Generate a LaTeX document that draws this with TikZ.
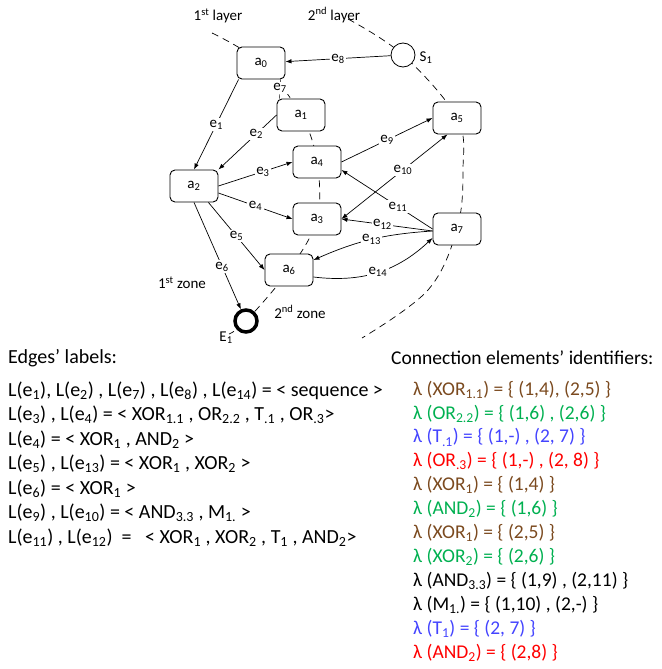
\documentclass[tikz,border=0pt]{standalone}
\usepackage{fontspec}
\setmainfont{Carlito}
\usepackage{tikz}
\usetikzlibrary{arrows.meta, positioning, backgrounds}
\definecolor{idbrown}{HTML}{7B4A1F}
\definecolor{idgreen}{HTML}{00B050}
\definecolor{idblue}{HTML}{4444FF}
\definecolor{idred}{HTML}{FF0000}
\newcommand{\dn}[1]{\textsubscript{#1}}
\newcommand{\up}[1]{\textsuperscript{#1}}
\tikzset{
	font = \fontsize{15}{18}\selectfont,
	activity/.style={
		draw,
		rounded corners=5pt,
		minimum width=48pt,
		minimum height=32pt,
		fill=white,
		line width=.9pt
	},
	startev/.style={
		draw,
		circle,
		fill=white,
		minimum size=24pt,
		inner sep=0pt,
		line width=.8pt
	},
	endev/.style={
		draw,
		circle,
		fill=white,
		minimum size=22pt,
		inner sep=0pt,
		line width=3.5pt
	},
	edge/.style={
		-{Latex[length=6pt,width=4.5pt]},
		line width=.7pt
	},
	twoway/.style={
		{Latex[length=6pt,width=4.5pt]}-{Latex[length=6pt,width=4.5pt]},
		line width=.7pt
	},
	elabel/.style={
		fill=white,
		inner sep=1.5pt
	},
	layer/.style={
		dash pattern=on 7pt off 5pt,
		line width=.7pt
	},
	listtxt/.style={
		anchor=base west,
		inner sep=0pt,
		align=left
	}
}

\begin{document}
\begin{tikzpicture}[x=1pt, y=-1pt, on grid]
	\useasboundingbox (0,0) rectangle (661,669);

	\node[activity] at (261,63) (a0) {a\dn{0}};
	\node[activity, below right=52pt and 40pt of a0] (a1) {a\dn{1}};
	\node[activity, below left=123pt and 67pt of a0] (a2) {a\dn{2}};
	\node[activity, below right=47pt and 16pt of a1] (a4) {a\dn{4}};
	\node[activity, below=57pt of a4] (a3) {a\dn{3}};
	\node[activity, below left=51pt and 28pt of a3] (a6) {a\dn{6}};
	\node[activity] at (457,118) (a5) {a\dn{5}};
	\node[activity, below=111pt of a5] (a7) {a\dn{7}};
	\node[startev] at (403,55) (start1) {};
	\node[endev] at (246,321) (end1) {};

	\node at (218,16) (lay1) {1\up{st} layer};
	\node at (334,15) (lay2) {2\up{nd} layer};
	\node at (426,58) (s1lbl) {S\dn{1}};
	\node at (226,338) (e1lbl) {E\dn{1}};
	\node at (182,283) (zone1) {1\up{st} zone};
	\node at (300,312) (zone2) {2\up{nd} zone};

	\begin{pgfonlayer}{background}
		\draw[layer] plot[smooth, tension=.6] coordinates {(212,33) (a0) (a1) (a4) (a3) (a6) (end1) (229,334)};
		\draw[layer] plot[smooth, tension=.6] coordinates {(348,19) (start1) (a5) (463,170) (a7) (428,290) (362,338)};
	\end{pgfonlayer}

	\draw[edge] (start1) to node[elabel] {e\dn{8}} (a0);
	\draw[edge] ([xshift=2pt]a0.south west) to node[elabel] {e\dn{1}} (a2.north);
	\draw ([xshift=-5pt]a0.south east) to node[elabel, pos=.45] {e\dn{7}} ([xshift=3pt]a1.north west);
	\draw[edge] (a1.west) to node[elabel, pos=.35] {e\dn{2}} (a2.north east);
	\draw[edge] (a2.east) to node[elabel, pos=.6] {e\dn{3}} (a4.west);
	\draw[edge] ([yshift=-7pt]a2.east) to node[elabel] {e\dn{4}} (a3.west);
	\draw[edge] ([xshift=-10pt]a2.south east) to node[elabel] {e\dn{5}} (a6.west);
	\draw[edge] (a2.south) to node[elabel, pos=.6] {e\dn{6}} (end1);
	\draw[edge] (a4.east) to node[elabel] {e\dn{9}} (a5.west);
	\draw[twoway] (a3.east) to node[elabel, pos=.58] {e\dn{10}} (a5.-120);
	\draw[edge] (a7.west) to node[elabel, pos=.38] {e\dn{11}} ([yshift=-8pt]a4.east);
	\draw[edge] ([yshift=-2pt]a7.west) to node[elabel, pos=.55] {e\dn{12}} (a3.east);
	\draw[edge] ([yshift=-2pt]a7.west) to[bend right=10] node[elabel] {e\dn{13}} ([yshift=10pt]a6.east);
	\draw[edge] ([yshift=-7pt]a6.east) to[bend right=25] node[elabel] {e\dn{14}} ([yshift=-9pt]a7.west);

	\node[listtxt, font=\fontsize{20}{24.5}\selectfont] at (8,363) (edgehd) {Edges’ labels:};
	\node[listtxt, font=\fontsize{20}{24.5}\selectfont] at (8,543) (edgelist) {L(e\dn{1}), L(e\dn{2}) , L(e\dn{7}) , L(e\dn{8}) , L(e\dn{14}) = < sequence >\\
		L(e\dn{3}) , L(e\dn{4}) = < XOR\dn{1.1} , OR\dn{2.2} , T\dn{.1} , OR\dn{.3}>\\
		L(e\dn{4}) = < XOR\dn{1} , AND\dn{2} >\\
		L(e\dn{5}) , L(e\dn{13}) = < XOR\dn{1} , XOR\dn{2} >\\
		L(e\dn{6}) = < XOR\dn{1} >\\
		L(e\dn{9}) , L(e\dn{10}) = < AND\dn{3.3} , M\dn{1.} >\\
		L(e\dn{11}) , L(e\dn{12})~ = ~ < XOR\dn{1} , XOR\dn{2} , T\dn{1} , AND\dn{2}>};

	\node[listtxt, font=\fontsize{19.5}{23.9}\selectfont] at (391,364) (idhd) {Connection elements’ identifiers:};
	\node[listtxt, font=\fontsize{19.5}{23.9}\selectfont] at (413,658) (idlist) {\textcolor{idbrown}{λ (XOR\dn{1.1}) = \{ (1,4), (2,5) \}}\\
		\textcolor{idgreen}{λ (OR\dn{2.2}) = \{ (1,6) , (2,6) \}}\\
		\textcolor{idblue}{λ (T\dn{.1}) = \{ (1,-) , (2, 7) \}}\\
		\textcolor{idred}{λ (OR\dn{.3}) = \{ (1,-) , (2, 8) \}}\\
		\textcolor{idbrown}{λ (XOR\dn{1}) = \{ (1,4) \}}\\
		\textcolor{idgreen}{λ (AND\dn{2}) = \{ (1,6) \}}\\
		\textcolor{idbrown}{λ (XOR\dn{1}) = \{ (2,5) \}}\\
		\textcolor{idgreen}{λ (XOR\dn{2}) = \{ (2,6) \}}\\
		λ (AND\dn{3.3}) = \{ (1,9) , (2,11) \}\\
		λ (M\dn{1.}) = \{ (1,10) , (2,-) \}\\
		\textcolor{idblue}{λ (T\dn{1}) = \{ (2, 7) \}}\\
		\textcolor{idred}{λ (AND\dn{2}) = \{ (2,8) \}}};
\end{tikzpicture}
\end{document}
